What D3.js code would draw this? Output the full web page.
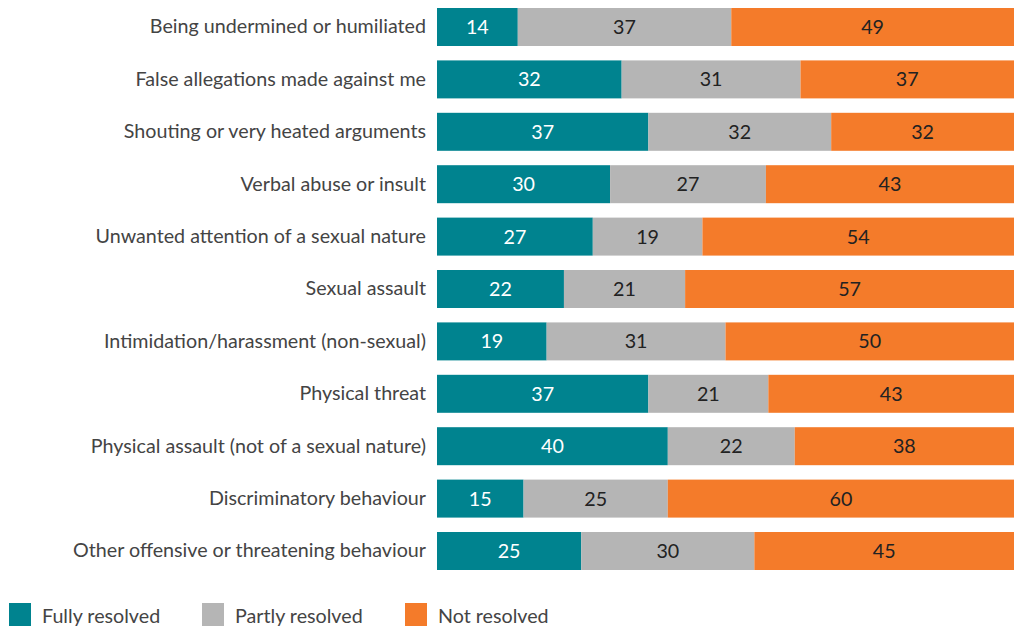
<!DOCTYPE html>
<html>
<head>
<meta charset="utf-8">
<script src="https://cdn.jsdelivr.net/npm/d3@7"></script>
<style>
  html, body { margin: 0; padding: 0; background: #fff; }
  svg { display: block; }
</style>
</head>
<body>
<svg id="chart" width="1017" height="626"></svg>
<script>
// Behaviour categories, top to bottom
const categories = [
  "Being undermined or humiliated",
  "False allegations made against me",
  "Shouting or very heated arguments",
  "Verbal abuse or insult",
  "Unwanted attention of a sexual nature",
  "Sexual assault",
  "Intimidation/harassment (non-sexual)",
  "Physical threat",
  "Physical assault (not of a sexual nature)",
  "Discriminatory behaviour",
  "Other offensive or threatening behaviour"
];

// Share of cases (%) by outcome
const fullyResolved  = [14, 32, 37, 30, 27, 22, 19, 37, 40, 15, 25];
const partlyResolved = [37, 31, 32, 27, 19, 21, 31, 21, 22, 25, 30];
const notResolved    = [49, 37, 32, 43, 54, 57, 50, 43, 38, 60, 45];

const seriesNames = ["Fully resolved", "Partly resolved", "Not resolved"];
const seriesColors = ["#00838f", "#b5b5b5", "#f47b2a"];
const labelColors = ["#ffffff", "#222222", "#222222"];

const rows = categories.map((c, i) => ({
  category: c,
  "Fully resolved": fullyResolved[i],
  "Partly resolved": partlyResolved[i],
  "Not resolved": notResolved[i]
}));

const svg = d3.select("#chart");
const FONT = "Lato, 'Open Sans', sans-serif";
const FS = 19.7;

const x = d3.scaleLinear().domain([0, 1]).range([437, 1014]);
const step = 52.4;
const y = d3.scaleBand()
  .domain(categories)
  .range([0.8, 0.8 + step * categories.length])
  .paddingInner(0.275)
  .paddingOuter(0.1375);

// Each row is shown as shares of its own total
const stack = d3.stack()
  .keys(seriesNames)
  .offset(d3.stackOffsetExpand);
const layers = stack(rows);

const g = svg.append("g");

layers.forEach((layer, li) => {
  const lg = g.append("g");
  lg.selectAll("rect")
    .data(layer)
    .join("rect")
    .attr("x", d => x(d[0]))
    .attr("y", d => y(d.data.category))
    .attr("width", d => x(d[1]) - x(d[0]))
    .attr("height", y.bandwidth())
    .attr("fill", seriesColors[li]);
  lg.selectAll("text")
    .data(layer)
    .join("text")
    .attr("x", d => (x(d[0]) + x(d[1])) / 2)
    .attr("y", d => y(d.data.category) + y.bandwidth() / 2)
    .attr("dy", "0.36em")
    .attr("text-anchor", "middle")
    .attr("font-family", FONT)
    .attr("font-size", FS)
    .attr("fill", labelColors[li])
    .text(d => d.data[layer.key]);
});

// Category axis labels
const yAxis = d3.axisLeft(y).tickSize(0).tickPadding(11);
const ya = svg.append("g")
  .attr("transform", `translate(${x.range()[0]},0)`)
  .call(yAxis);
ya.select(".domain").remove();
ya.selectAll("text")
  .attr("font-family", FONT)
  .attr("font-size", FS)
  .attr("fill", "#444444");

// Legend
const legendX = [9, 202, 405];
const leg = svg.append("g");
seriesNames.forEach((name, i) => {
  leg.append("rect")
    .attr("x", legendX[i])
    .attr("y", 603)
    .attr("width", 22)
    .attr("height", 23)
    .attr("fill", seriesColors[i]);
  leg.append("text")
    .attr("x", legendX[i] + 33)
    .attr("y", 623)
    .attr("font-family", FONT)
    .attr("font-size", FS)
    .attr("fill", "#444444")
    .text(name);
});
</script>
</body>
</html>
